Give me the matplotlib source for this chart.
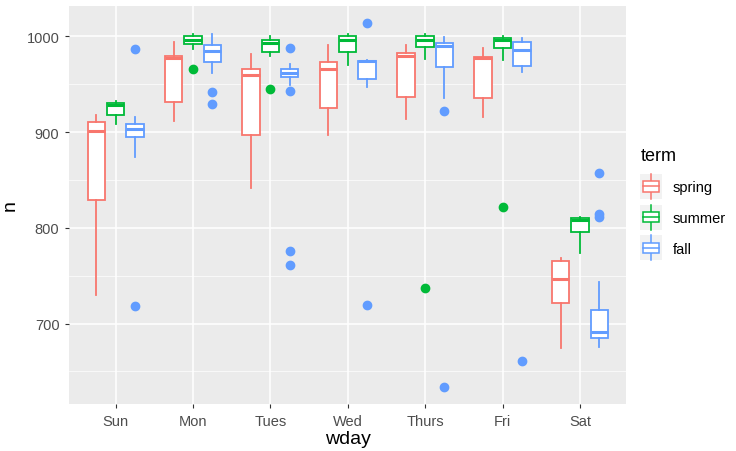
import matplotlib
matplotlib.use("Agg")
import matplotlib.pyplot as plt
from matplotlib.legend_handler import HandlerBase
from matplotlib.patches import Rectangle
from matplotlib.lines import Line2D

plt.rcParams['font.family'] = ['Liberation Sans', 'DejaVu Sans']

days = ["Sun", "Mon", "Tues", "Wed", "Thurs", "Fri", "Sat"]
terms = ["spring", "summer", "fall"]
term_colors = ["#F8766D", "#00BA38", "#619CFF"]

# box stats per term, one value per day (Sun..Sat)
spring_whislo = [730, 912, 842, 897, 914, 916, 674]
spring_q1 = [829, 932, 897, 925, 937, 936, 722]
spring_med = [901, 977, 960, 966, 980, 977, 747]
spring_q3 = [911, 980, 966, 973, 983, 979, 765]
spring_whishi = [918, 994, 982, 991, 991, 988, 769]
spring_fliers = [[], [], [], [], [], [], []]

summer_whislo = [909, 987, 980, 970, 976, 975, 774]
summer_q1 = [918, 992, 984, 984, 989, 988, 796]
summer_med = [928, 996, 993, 996, 996, 996, 808]
summer_q3 = [930, 1000, 996, 1000, 1000, 998, 810]
summer_whishi = [933, 1003, 1000, 1003, 1002, 1000, 811]
summer_fliers = [[], [966], [945], [], [737], [822], []]

fall_whislo = [874, 962, 949, 947, 936, 963, 676]
fall_q1 = [895, 973, 958, 956, 968, 969, 685]
fall_med = [903, 985, 962, 974, 990, 986, 691]
fall_q3 = [909, 991, 966, 974, 993, 994, 714]
fall_whishi = [916, 1003, 971, 975, 999, 998, 743]
fall_fliers = [[987, 718], [942, 929], [988, 943, 776, 761], [1014, 719],
               [922, 634], [661], [857, 814, 811]]

series = [
    (spring_whislo, spring_q1, spring_med, spring_q3, spring_whishi, spring_fliers),
    (summer_whislo, summer_q1, summer_med, summer_q3, summer_whishi, summer_fliers),
    (fall_whislo, fall_q1, fall_med, fall_q3, fall_whishi, fall_fliers),
]


class BoxKeyHandler(HandlerBase):
    # draws a small ggplot-like boxplot glyph as legend key
    def create_artists(self, legend, orig_handle, xdescent, ydescent,
                       width, height, fontsize, trans):
        color = orig_handle.get_color()
        x0, y0 = -xdescent, -ydescent
        cx = x0 + width / 2
        bg = Rectangle((x0, y0 - 3), width, height + 6,
                       facecolor="#F2F2F2", edgecolor="none", transform=trans)
        box = Rectangle((x0 + 2, y0 + height * 0.2), width - 4, height * 0.6,
                        facecolor="white", edgecolor=color, lw=1.1, transform=trans)
        med = Line2D([x0 + 2, x0 + width - 2], [y0 + height / 2] * 2,
                     color=color, lw=1.1, transform=trans)
        wh = Line2D([cx, cx], [y0 - 3, y0 + height + 3],
                    color=color, lw=1.1, transform=trans)
        return [bg, wh, box, med]


fig = plt.figure(figsize=(7.36, 4.52), dpi=100)
ax = fig.add_axes([0.094, 0.104, 0.757, 0.881])
ax.set_facecolor("#EBEBEB")

n_terms = len(terms)
group_w = 0.75
box_w = group_w / n_terms
handles = []
for t, (wlo, q1, med, q3, whi, fl) in enumerate(series):
    color = term_colors[t]
    stats = []
    for d in range(len(days)):
        stats.append(dict(whislo=wlo[d], q1=q1[d], med=med[d], q3=q3[d],
                          whishi=whi[d], fliers=fl[d]))
    pos = [d + 1 - group_w / 2 + box_w * (t + 0.5) for d in range(len(days))]
    ax.bxp(stats, positions=pos, widths=box_w * 0.9, showcaps=False, patch_artist=True,
           boxprops=dict(facecolor="white", edgecolor=color, lw=1.3),
           medianprops=dict(color=color, lw=2.2),
           whiskerprops=dict(color=color, lw=1.3),
           flierprops=dict(marker="o", markerfacecolor=color, markeredgecolor=color,
                           markersize=6, linestyle="none"),
           manage_ticks=False, zorder=3)
    handles.append(Line2D([], [], color=color, label=terms[t]))

ax.set_xlim(0.4, 7.6)
ax.set_ylim(616, 1032)
ax.set_xticks(range(1, len(days) + 1))
ax.set_xticklabels(days)
ax.set_yticks([700, 800, 900, 1000])
ax.set_yticks([650, 750, 850, 950], minor=True)
ax.grid(which="major", color="white", lw=1.1)
ax.grid(which="minor", color="white", lw=0.5)
ax.set_axisbelow(True)
for s in ax.spines.values():
    s.set_visible(False)
ax.tick_params(which="major", length=3, color="#333333", labelcolor="#4D4D4D",
               labelsize=10.5, pad=4)
ax.tick_params(which="minor", length=0)
ax.set_xlabel("wday", fontsize=14, labelpad=2)
ax.set_ylabel("n", fontsize=14, labelpad=6)

fig.legend(handles=handles, title="term", loc="upper left",
           bbox_to_anchor=(0.862, 0.685), frameon=False,
           handler_map={Line2D: BoxKeyHandler()}, handlelength=1.5, handleheight=1.4,
           fontsize=10.5, title_fontsize=13, labelspacing=0.95, handletextpad=0.7,
           borderaxespad=0, alignment="left")

fig.savefig("out.png", dpi=100)
